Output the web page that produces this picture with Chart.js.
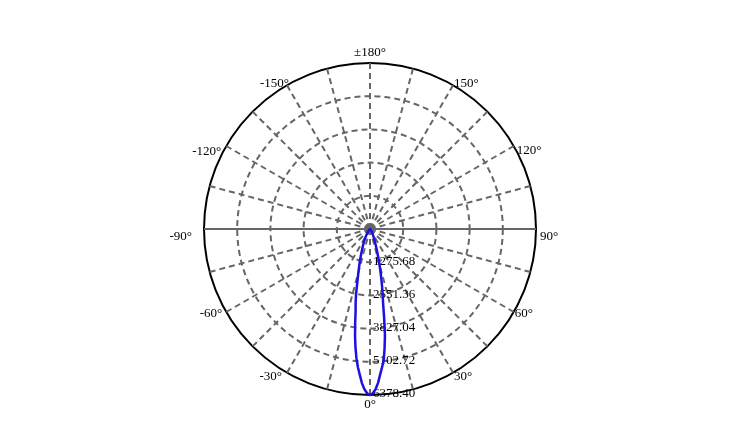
<!DOCTYPE html>
<html>
<head>
<meta charset="utf-8">
<style>
html,body{margin:0;padding:0;background:#fff;}
#wrap{width:730px;height:427px;}
</style>
<script src="https://cdn.jsdelivr.net/npm/chart.js@4.4.1/dist/chart.umd.min.js"></script>
</head>
<body>
<div id="wrap"><canvas id="c" width="730" height="427"></canvas></div>
<script>
// Ring (radial tick) values and their labels
const ringValues = [0, 1275.68, 2551.36, 3827.04, 5102.72, 6378.40];
const ringLabels = ['', '1275.68', '2551.36', '3827.04', '5102.72', '6378.40'];

// Labelled angles around the rim
const rimAngles = [0, 30, 60, 90, 120, 150, 180, -150, -120, -90, -60, -30];
const rimLabels = ['0°', '30°', '60°', '90°', '120°', '150°', '±180°', '-150°', '-120°', '-90°', '-60°', '-30°'];

// Off-axis angle (deg) and luminous intensity
const offAxisDeg = [0,1,2,3,4,5,6,7,8,9,10,11,12,13,14,15,16,17,18,19,20,21,22,23,24,25,26,27,28,29,30,31,32,33,34,35,36,37,38,39,40,41,42,43,44,45,46,47,48,49,50];
const intensityPositive = [6378.40,6310,6160,5920,5600,5330,5060,4600,4130,3480,2900,2540,2210,1910,1630,1390,1190,1000,850,720,620,540,470,410,360,315,275,240,210,180,155,135,115,100,85,72,60,50,42,35,28,23,19,16,13,11,9,7,6,5,4];
const intensityNegative = [6378.40,6310,6160,5930,5620,5330,4990,4580,4130,3640,3180,2900,2580,2230,1940,1720,1520,1370,1210,1070,950,850,760,680,610,545,485,430,380,335,295,260,225,195,170,145,125,105,90,75,62,52,43,36,30,25,21,17,14,11,9];

// Category angles: index 0 = 0° at the bottom, clockwise on screen
const categoryAngles = [];
for (let i = 0; i < 360; i++) {
  categoryAngles.push(i === 0 ? 0 : (i <= 180 ? (i === 180 ? 180 : -i) : 360 - i));
}
function intensityAt(a) {
  const k = offAxisDeg.indexOf(Math.abs(a));
  if (k < 0) return 0;
  return a >= 0 ? intensityPositive[k] : intensityNegative[k];
}
const seriesValues = categoryAngles.map(intensityAt);
const lastRing = ringValues.length - 1;
const gridGray = '#666666';

// rim label nudges (style only), keyed by |angle|
const rimNudge = {
  30:  { r: [1, 4],  l: [-5, 4] },
  60:  { r: [1, 2],  l: [-4, 2] },
  90:  { r: [4, 8],  l: [-12, 8] },
  120: { r: [3, 5],  l: [-5, 6] },
  150: { r: [1, -2], l: [2, -2] }
};

const labelPlugin = {
  id: 'polarLabels',
  beforeDatasetsDraw(chart) {
    const s = chart.scales.r;
    const ctx = chart.ctx;
    ctx.save();
    ctx.font = '13px "Liberation Serif", "Times New Roman", serif';
    ctx.fillStyle = '#000';
    ctx.textAlign = 'left';
    ctx.textBaseline = 'middle';
    ringValues.forEach((v, i) => {
      if (!ringLabels[i]) return;
      const p = s.getPointPosition(0, s.getDistanceFromCenterForValue(v));
      ctx.fillText(ringLabels[i], p.x + 3, p.y - 1);
    });
    ctx.restore();
  },
  afterDraw(chart) {
    const s = chart.scales.r;
    const ctx = chart.ctx;
    ctx.save();
    ctx.font = '13px "Liberation Serif", "Times New Roman", serif';
    ctx.fillStyle = '#000';
    ctx.textBaseline = 'middle';
    rimAngles.forEach((a, i) => {
      const idx = categoryAngles.indexOf(a);
      const p = s.getPointPosition(idx, s.drawingArea);
      let x = p.x, y = p.y;
      if (Math.abs(p.x - s.xCenter) < 1) {
        ctx.textAlign = 'center';
        y += (p.y < s.yCenter) ? -10 : 10;
      } else {
        const right = p.x > s.xCenter;
        const n = rimNudge[Math.abs(a)][right ? 'r' : 'l'];
        ctx.textAlign = right ? 'left' : 'right';
        x += n[0]; y += n[1];
      }
      ctx.fillText(rimLabels[i], x, y);
    });
    ctx.restore();
  }
};

new Chart(document.getElementById('c'), {
  type: 'radar',
  data: {
    labels: categoryAngles.map(a => String(a)),
    datasets: [{
      data: seriesValues,
      borderColor: 'rgb(28,16,226)',
      borderWidth: 2.5,
      pointRadius: 0,
      pointHitRadius: 0,
      fill: false,
      tension: 0
    }]
  },
  options: {
    responsive: false,
    animation: false,
    devicePixelRatio: 1,
    layout: { padding: { top: 63, bottom: 32, left: 10, right: 0 } },
    plugins: { legend: { display: false }, tooltip: { enabled: false } },
    elements: { line: { borderJoinStyle: 'round' } },
    scales: {
      r: {
        min: 0,
        max: ringValues[lastRing],
        startAngle: 180,
        afterBuildTicks: (sc) => { sc.ticks = ringValues.map(v => ({ value: v })); },
        ticks: { display: false },
        pointLabels: { display: false },
        grid: {
          circular: true,
          color: (c) => c.index === lastRing ? '#000' : gridGray,
          lineWidth: 2
        },
        border: {
          dash: (c) => c.index === lastRing ? [] : [6, 4]
        },
        angleLines: {
          display: true,
          color: (c) => (categoryAngles[c.index] % 15 === 0) ? gridGray : 'rgba(0,0,0,0)',
          lineWidth: (c) => (categoryAngles[c.index] % 15 === 0) ? 2 : 0,
          borderDash: (c) => Math.abs(categoryAngles[c.index]) === 90 ? [] : [6, 4]
        }
      }
    }
  },
  plugins: [labelPlugin]
});
</script>
</body>
</html>
